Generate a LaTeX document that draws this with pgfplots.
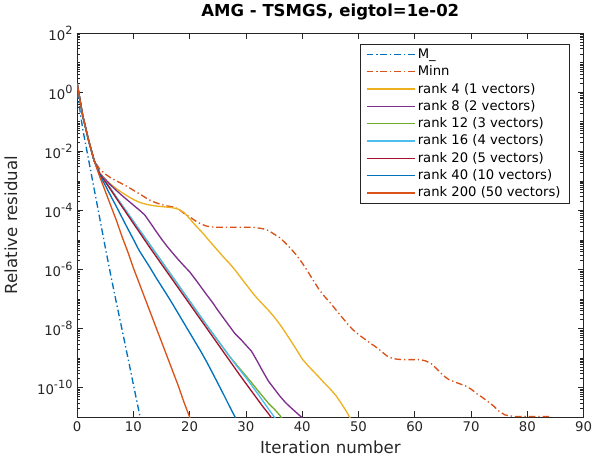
\documentclass[border=0pt]{standalone}
\usepackage{fontspec}
\setmainfont{DejaVu Sans}
\usepackage{pgfplots}
\pgfplotsset{compat=1.18}

% MATLAB default line colours
\definecolor{mblue}{rgb}{0,0.447,0.741}
\definecolor{morange}{rgb}{0.85,0.325,0.098}
\definecolor{myellow}{rgb}{0.929,0.694,0.125}
\definecolor{mpurple}{rgb}{0.494,0.184,0.556}
\definecolor{mgreen}{rgb}{0.466,0.674,0.188}
\definecolor{mcyan}{rgb}{0.301,0.745,0.933}
\definecolor{mred}{rgb}{0.635,0.078,0.184}
\definecolor{axgray}{rgb}{0.15,0.15,0.15}

% minor ticks at 1..9 x 10^e
\def\minorlist{}
\foreach \e in {-11,...,1}{\foreach \m in {1,...,9}{\xdef\minorlist{\minorlist\m e\e,}}}
\xdef\minorlist{\minorlist 1e2}

% power-of-ten tick label in the text font
\newcommand{\tp}[1]{10\raisebox{0.45em}{\fontsize{8.5}{9}\selectfont #1}}

\begin{document}
\begin{tikzpicture}
\begin{axis}[
  width=380.8pt, height=288.75pt, scale only axis,
  xmin=0, xmax=90, ymin=1e-11, ymax=1e2, ymode=log,
  xtick={0,10,...,90},
  ytick={1e-10,1e-8,1e-6,1e-4,1e-2,1,1e2},
  yticklabels={\tp{-10},\tp{-8},\tp{-6},\tp{-4},\tp{-2},\tp{0},\tp{2}},
  minor ytick/.expanded={\minorlist},
  /pgf/number format/assume math mode=true,
  tick label style={font=\fontsize{10}{12}\selectfont, text=axgray},
  xticklabel style={inner xsep=0pt},
  label style={font=\fontsize{12.5}{15}\selectfont, text=axgray},
  ylabel shift=8pt,
  title style={font=\bfseries\fontsize{12.4}{15}\selectfont},
  title={AMG - TSMGS, eigtol=1e-02},
  xlabel={Iteration number}, ylabel={Relative residual},
  axis line style={axgray, line width=0.6pt},
  every tick/.style={axgray, line width=0.5pt},
  major tick length=4.5pt, minor tick length=2.5pt,
  legend cell align=left,
  legend style={at={(1,1)}, anchor=north east, xshift=-10.5pt, yshift=-8pt,
    font=\fontsize{9.9}{11.5}\selectfont, draw=axgray, line width=0.5pt,
    inner xsep=4.5pt, inner ysep=1.5pt, row sep=0pt},
  legend image code/.code={\draw[mark=none,#1] (0pt,0pt) -- (36pt,0pt);},
  every axis plot/.append style={line width=1pt, mark=none},
  mdash/.style={dash pattern=on 5pt off 2.2pt on 1pt off 2.2pt},
]
% M_
\addplot[mblue, mdash] coordinates {(0,1.0) (1,5.62e-2) (2,5.62e-3) (3,5.62e-4) (4,5.62e-5) (5,5.62e-6) (6,6.03e-7) (7,7.08e-8) (8,8.91e-9) (9,1.07e-9) (10,1.26e-10) (11,1.51e-11) (12,1.78e-12)};
\addlegendentry{M\_}
% Minn
\addplot[morange, mdash] coordinates {(0,2.0) (1,1.58e-1) (2,2.51e-2) (3,5.01e-3) (4,2.51e-3) (5,1.70e-3) (6,1.26e-3) (7,1.0e-3) (8,7.94e-4) (9,6.31e-4) (10,4.79e-4) (11,3.72e-4) (12,2.82e-4) (13,2.19e-4) (14,1.82e-4) (15,1.58e-4) (16,1.41e-4) (17,1.32e-4) (18,1.12e-4) (19,7.94e-5) (20,6.03e-5) (21,4.47e-5) (22,3.47e-5) (23,2.95e-5) (24,2.75e-5) (25,2.69e-5) (26,2.69e-5) (27,2.69e-5) (28,2.69e-5) (29,2.69e-5) (30,2.69e-5) (31,2.69e-5) (32,2.57e-5) (33,2.40e-5) (34,2.09e-5) (35,1.58e-5) (36,1.20e-5) (37,7.94e-6) (38,5.01e-6) (39,3.02e-6) (40,1.66e-6) (41,8.51e-7) (42,4.17e-7) (43,2.09e-7) (44,1.20e-7) (45,7.41e-8) (46,4.27e-8) (47,2.51e-8) (48,1.48e-8) (49,9.12e-9) (50,6.31e-9) (51,4.57e-9) (52,3.31e-9) (53,2.45e-9) (54,1.74e-9) (55,1.20e-9) (56,9.77e-10) (57,9.12e-10) (58,8.91e-10) (59,8.91e-10) (60,8.91e-10) (61,8.91e-10) (62,7.94e-10) (63,6.31e-10) (64,4.17e-10) (65,2.63e-10) (66,1.91e-10) (67,1.58e-10) (68,1.35e-10) (69,1.15e-10) (70,8.91e-11) (71,6.31e-11) (72,4.68e-11) (73,3.39e-11) (74,2.40e-11) (75,1.58e-11) (76,1.20e-11) (77,1.10e-11) (78,1.05e-11) (79,1.05e-11) (80,1.05e-11) (81,1.05e-11) (82,1.05e-11) (83,1.05e-11) (84,1.05e-11)};
\addlegendentry{Minn}
% rank 4
\addplot[myellow] coordinates {(0,2.0) (1,1.58e-1) (2,2.51e-2) (3,5.01e-3) (4,1.91e-3) (5,1.12e-3) (6,7.59e-4) (7,5.37e-4) (8,3.98e-4) (9,3.02e-4) (10,2.34e-4) (11,1.91e-4) (12,1.66e-4) (13,1.51e-4) (14,1.41e-4) (15,1.35e-4) (16,1.29e-4) (17,1.23e-4) (18,1.10e-4) (19,8.51e-5) (20,5.25e-5) (21,3.16e-5) (22,2.0e-5) (23,1.20e-5) (24,7.24e-6) (25,4.37e-6) (26,2.63e-6) (27,1.66e-6) (28,1.0e-6) (29,5.62e-7) (30,3.16e-7) (31,1.78e-7) (32,1.05e-7) (33,6.61e-8) (34,4.17e-8) (35,2.51e-8) (36,1.41e-8) (37,7.41e-9) (38,3.80e-9) (39,1.91e-9) (40,9.33e-10) (41,5.62e-10) (42,3.55e-10) (43,2.24e-10) (44,1.38e-10) (45,8.91e-11) (46,5.37e-11) (47,2.82e-11) (48,1.41e-11) (49,6.31e-12)};
\addlegendentry{rank 4 (1 vectors)}
% rank 8
\addplot[mpurple] coordinates {(0,2.0) (1,1.58e-1) (2,2.51e-2) (3,5.01e-3) (4,1.78e-3) (5,1.12e-3) (6,7.08e-4) (7,4.68e-4) (8,3.16e-4) (9,2.19e-4) (10,1.51e-4) (11,1.05e-4) (12,7.08e-5) (13,3.80e-5) (14,2.0e-5) (15,1.07e-5) (16,6.03e-6) (17,3.55e-6) (18,2.14e-6) (19,1.32e-6) (20,8.32e-7) (21,4.68e-7) (22,2.57e-7) (23,1.41e-7) (24,7.94e-8) (25,4.17e-8) (26,2.29e-8) (27,1.26e-8) (28,6.92e-9) (29,4.47e-9) (30,2.75e-9) (31,1.70e-9) (32,7.94e-10) (33,3.55e-10) (34,1.66e-10) (35,9.33e-11) (36,5.25e-11) (37,3.16e-11) (38,2.09e-11) (39,1.41e-11) (40,9.55e-12) (41,6.31e-12)};
\addlegendentry{rank 8 (2 vectors)}
% rank 12
\addplot[mgreen] coordinates {(0,2.0) (1,1.58e-1) (2,2.51e-2) (3,5.01e-3) (4,1.82e-3) (5,9.77e-4) (6,5.25e-4) (7,2.75e-4) (8,1.48e-4) (9,7.94e-5) (10,4.27e-5) (11,2.29e-5) (12,1.23e-5) (13,6.61e-6) (14,3.55e-6) (15,1.91e-6) (16,1.02e-6) (17,5.50e-7) (18,2.95e-7) (19,1.58e-7) (20,8.51e-8) (21,4.57e-8) (22,2.45e-8) (23,1.32e-8) (24,7.24e-9) (25,3.98e-9) (26,2.19e-9) (27,1.20e-9) (28,7.08e-10) (29,4.17e-10) (30,2.51e-10) (31,1.48e-10) (32,8.51e-11) (33,5.01e-11) (34,2.95e-11) (35,1.91e-11) (36,1.17e-11) (37,6.31e-12)};
\addlegendentry{rank 12 (3 vectors)}
% rank 16
\addplot[mcyan] coordinates {(0,2.0) (1,1.58e-1) (2,2.51e-2) (3,5.01e-3) (4,1.82e-3) (5,9.77e-4) (6,5.25e-4) (7,2.75e-4) (8,1.48e-4) (9,7.94e-5) (10,4.27e-5) (11,2.29e-5) (12,1.23e-5) (13,6.61e-6) (14,3.55e-6) (15,1.91e-6) (16,1.02e-6) (17,5.50e-7) (18,2.95e-7) (19,1.58e-7) (20,8.51e-8) (21,4.57e-8) (22,2.45e-8) (23,1.32e-8) (24,7.24e-9) (25,3.98e-9) (26,2.19e-9) (27,1.20e-9) (28,6.61e-10) (29,3.80e-10) (30,2.19e-10) (31,1.20e-10) (32,6.61e-11) (33,3.55e-11) (34,1.91e-11) (35,1.05e-11) (36,5.62e-12)};
\addlegendentry{rank 16 (4 vectors)}
% rank 20
\addplot[mred] coordinates {(0,2.0) (1,1.58e-1) (2,2.51e-2) (3,5.01e-3) (4,1.78e-3) (5,9.33e-4) (6,4.90e-4) (7,2.51e-4) (8,1.32e-4) (9,6.92e-5) (10,3.63e-5) (11,1.91e-5) (12,1.0e-5) (13,5.25e-6) (14,2.82e-6) (15,1.51e-6) (16,8.13e-7) (17,4.37e-7) (18,2.34e-7) (19,1.26e-7) (20,6.76e-8) (21,3.63e-8) (22,1.95e-8) (23,1.05e-8) (24,5.62e-9) (25,3.02e-9) (26,1.62e-9) (27,8.71e-10) (28,4.68e-10) (29,2.51e-10) (30,1.38e-10) (31,7.59e-11) (32,4.17e-11) (33,2.29e-11) (34,1.32e-11) (35,7.08e-12)};
\addlegendentry{rank 20 (5 vectors)}
% rank 40
\addplot[mblue] coordinates {(0,2.0) (1,1.58e-1) (2,2.51e-2) (3,5.01e-3) (4,1.58e-3) (5,7.08e-4) (6,3.02e-4) (7,1.32e-4) (8,5.62e-5) (9,2.40e-5) (10,1.05e-5) (11,4.47e-6) (12,2.24e-6) (13,1.12e-6) (14,5.37e-7) (15,2.69e-7) (16,1.35e-7) (17,6.61e-8) (18,3.16e-8) (19,1.51e-8) (20,7.24e-9) (21,3.47e-9) (22,1.66e-9) (23,7.59e-10) (24,3.31e-10) (25,1.41e-10) (26,6.03e-11) (27,2.51e-11) (28,1.07e-11) (29,4.47e-12)};
\addlegendentry{rank 40 (10 vectors)}
% rank 200
\addplot[morange] coordinates {(0,2.0) (1,1.58e-1) (2,2.51e-2) (3,5.01e-3) (4,1.41e-3) (5,4.47e-4) (6,1.41e-4) (7,4.47e-5) (8,1.26e-5) (9,3.98e-6) (10,1.12e-6) (11,3.55e-7) (12,1.12e-7) (13,3.55e-8) (14,1.12e-8) (15,3.55e-9) (16,1.12e-9) (17,3.55e-10) (18,1.12e-10) (19,3.16e-11) (20,1.0e-11) (21,3.16e-12)};
\addlegendentry{rank 200 (50 vectors)}
\end{axis}
\end{tikzpicture}
\end{document}
